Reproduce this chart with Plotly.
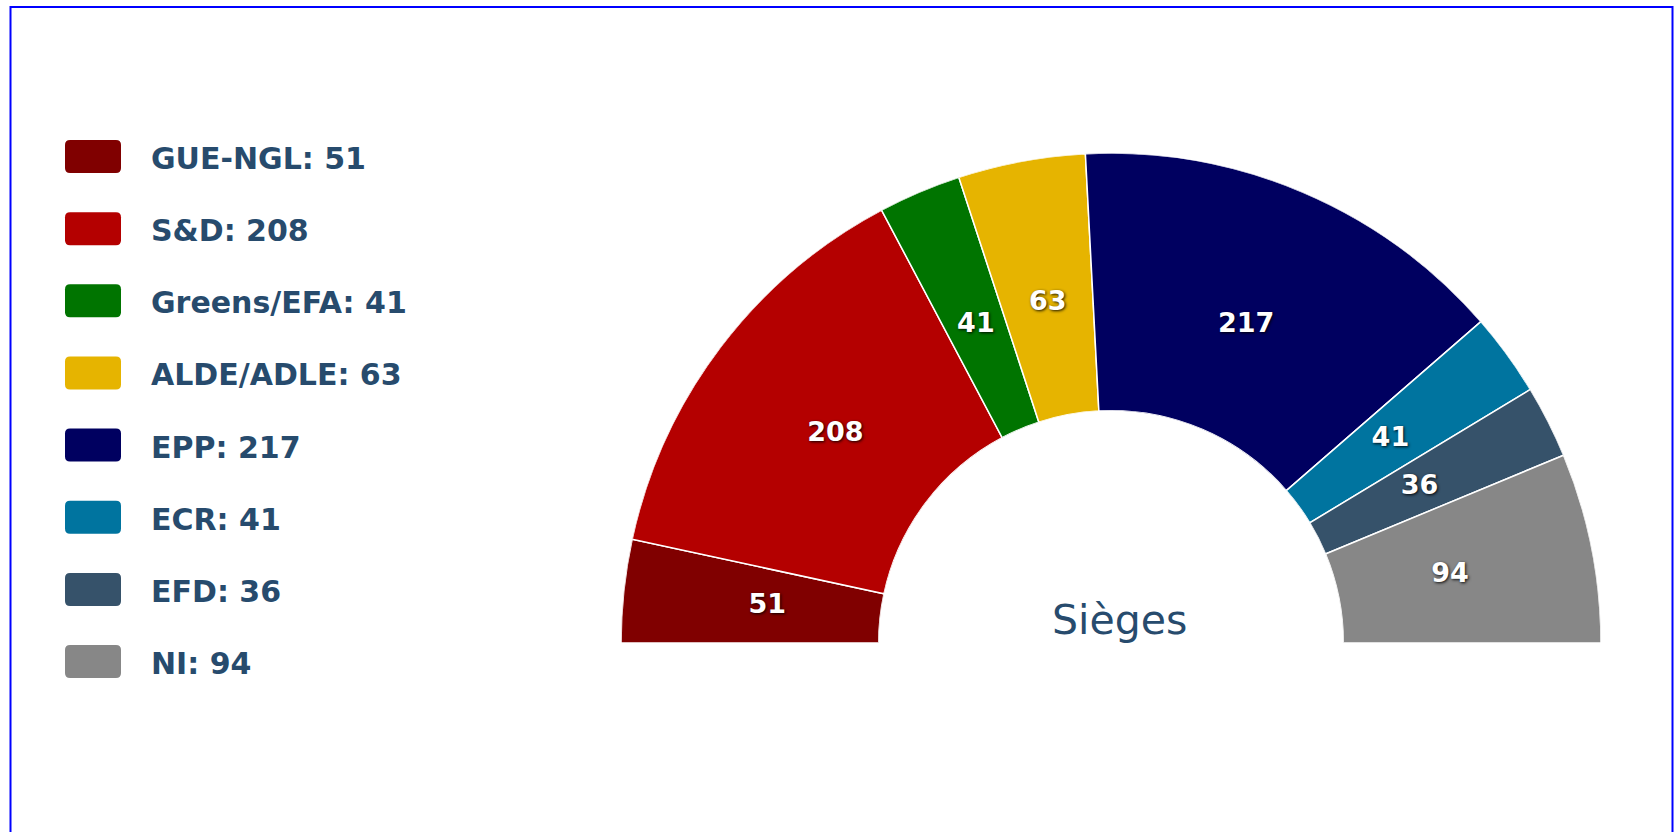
import numpy as np
import plotly.graph_objects as go

# ---- data ----
parties = ["GUE-NGL", "S&D", "Greens/EFA", "ALDE/ADLE", "EPP", "ECR", "EFD", "NI"]
seats = [51, 208, 41, 63, 217, 41, 36, 94]
colors = ["#800000", "#b40000", "#007400", "#e6b400", "#000060", "#00749f", "#36526a", "#878787"]
center_title = "Sièges"

W, H = 1676, 832
TEXT_COLOR = "#274b6d"
FONT = "DejaVu Sans"

total = sum(seats)
cum = np.cumsum(seats)
widths = [s / total * 180 for s in seats]
centers = [(c - s / 2) / total * 180 for c, s in zip(cum, seats)]

fig = go.Figure()
fig.add_trace(go.Barpolar(
    r=[1] * len(seats),
    theta=centers,
    width=widths,
    marker=dict(color=colors, line=dict(color="white", width=1.5)),
    text=parties,
    hovertemplate="%{text}: %{customdata}<extra></extra>",
    customdata=seats,
    showlegend=False,
))
fig.add_trace(go.Scatterpolar(
    r=[0.44] * len(seats),
    theta=centers,
    mode="text",
    text=[str(s) for s in seats],
    textposition="middle center",
    textfont=dict(family=FONT, size=27, color="white", weight="bold",
                  shadow="1px 1px 3px rgba(0,0,0,0.9)"),
    hoverinfo="skip",
    showlegend=False,
))

fig.update_layout(
    width=W, height=H,
    margin=dict(l=0, r=0, t=0, b=0),
    paper_bgcolor="white",
    plot_bgcolor="white",
    polar=dict(
        domain=dict(x=[621 / W, 1601 / W], y=[1 - 643 / H, 1 - 153 / H]),
        sector=[0, 180],
        hole=0.474,
        bargap=0,
        bgcolor="rgba(0,0,0,0)",
        angularaxis=dict(visible=False, direction="clockwise", rotation=180,
                         showgrid=False, showline=False, ticks=""),
        radialaxis=dict(visible=False, range=[0, 1], showgrid=False,
                        showline=False, ticks=""),
    ),
)

# custom legend (rounded swatches + bold labels)
shapes = []
annotations = []
rw, rh, rr = 56, 33, 5
hw, hh = rw / 2, rh / 2
swatch_path = (
    f"M {-hw + rr},{-hh} L {hw - rr},{-hh} Q {hw},{-hh} {hw},{-hh + rr} "
    f"L {hw},{hh - rr} Q {hw},{hh} {hw - rr},{hh} L {-hw + rr},{hh} "
    f"Q {-hw},{hh} {-hw},{hh - rr} L {-hw},{-hh + rr} Q {-hw},{-hh} {-hw + rr},{-hh} Z"
)
for i, (p, s, c) in enumerate(zip(parties, seats, colors)):
    yc = 156.5 + i * 72.15
    shapes.append(dict(
        type="path", xref="paper", yref="paper",
        xsizemode="pixel", ysizemode="pixel",
        xanchor=93 / W, yanchor=1 - yc / H,
        path=swatch_path, fillcolor=c, line=dict(width=0),
    ))
    annotations.append(dict(
        text=f"{p}: {s}", xref="paper", yref="paper",
        x=149 / W, y=1 - (yc + 2) / H, xanchor="left", yanchor="middle",
        showarrow=False,
        font=dict(family=FONT, size=30, color=TEXT_COLOR, weight="bold"),
    ))

annotations.append(dict(
    text=center_title, xref="paper", yref="paper",
    x=1119 / W, y=1 - 620 / H, xanchor="center", yanchor="middle",
    showarrow=False,
    font=dict(family=FONT, size=41, color=TEXT_COLOR),
))

# outer blue frame
shapes.append(dict(
    type="rect", xref="paper", yref="paper",
    x0=10.5 / W, x1=1672.5 / W, y0=-0.05, y1=1 - 7 / H,
    line=dict(color="#0000ff", width=2), fillcolor="rgba(0,0,0,0)",
))

fig.update_layout(shapes=shapes, annotations=annotations)

fig.write_html(
    "out.html",
    config={"displayModeBar": False},
    post_script="document.body.style.margin='0px';document.body.style.overflow='hidden';",
)
